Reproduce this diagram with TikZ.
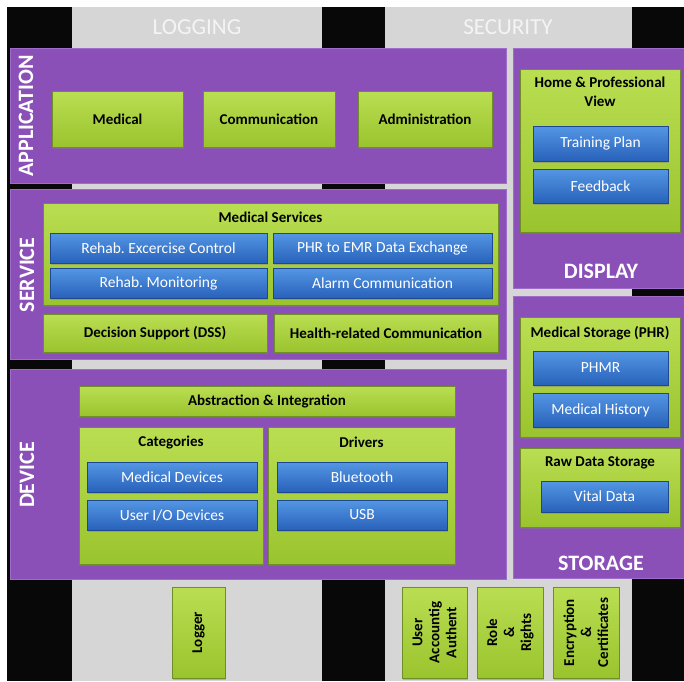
\documentclass[tikz,border=0pt]{standalone}
\usepackage{fontspec}
\setmainfont{Carlito}
\frenchspacing
\usetikzlibrary{shadows}
\definecolor{pur}{RGB}{138,80,184}
\definecolor{purT}{RGB}{160,108,204}
\definecolor{grnT}{RGB}{186,222,82}
\definecolor{grnB}{RGB}{154,196,46}
\definecolor{grnD}{RGB}{112,142,40}
\definecolor{bluT}{RGB}{84,150,228}
\definecolor{bluB}{RGB}{40,98,186}
\definecolor{bluD}{RGB}{30,72,145}
\definecolor{gry}{RGB}{214,214,214}
\definecolor{blk}{RGB}{8,8,8}
\definecolor{lbl}{RGB}{244,244,244}
\newcommand\bx[7]{\pgfmathsetmacro\bw{#5-#3}\pgfmathsetmacro\bh{#6-#4}%
  \node[#2,minimum width=\bw pt,minimum height=\bh pt,inner sep=0pt] (#1) at ({(#3+#5)/2},{(#4+#6)/2}) {#7};}
\tikzset{
  colblack/.style={fill=blk,draw=none},
  colgray/.style={fill=gry,draw=none},
  panel/.style={fill=pur,draw=purT,line width=0.6pt},
  gbox/.style={top color=grnT,bottom color=grnB,draw=grnD,line width=0.7pt,
    drop shadow={shadow xshift=1pt,shadow yshift=-1.5pt,opacity=.45},
    font=\fontsize{15}{17}\selectfont\bfseries,text=black,align=center},
  bbox/.style={top color=bluT,bottom color=bluB,draw=bluD,line width=0.7pt,
    drop shadow={shadow xshift=1pt,shadow yshift=-1.5pt,opacity=.45},
    font=\fontsize{15.5}{18}\selectfont,text=white},
  ptitle/.style={font=\fontsize{22}{26}\selectfont\bfseries,text=white,inner sep=0pt},
  gtitle/.style={font=\fontsize{15}{19}\selectfont\bfseries,text=black,inner sep=0pt,align=center},
  toplbl/.style={font=\fontsize{23}{26}\selectfont,text=lbl,inner sep=0pt},
  vtxt/.style={font=\fontsize{15}{17}\selectfont\bfseries,text=black,align=center,rotate=90}
}
\begin{document}
\begin{tikzpicture}[x=1pt,y=-1pt]
\useasboundingbox (0,0) rectangle (684,681);
\fill[white] (0,0) rectangle (684,681);
% background columns
\bx{c1}{colblack}{7}{7}{72}{681}{}
\bx{c2}{colgray}{72}{7}{322}{681}{}
\bx{c3}{colblack}{322}{7}{385}{681}{}
\bx{c4}{colgray}{385}{7}{632}{681}{}
\bx{c5}{colblack}{632}{7}{684}{681}{}
\node[toplbl] (logT) at (197,27) {LOGGING};
\node[toplbl] (secT) at (508,27) {SECURITY};
% purple panels
\bx{app}{panel}{10}{48}{506}{183}{}
\bx{srv}{panel}{10}{189}{506}{359}{}
\bx{dev}{panel}{10}{369}{506}{579}{}
\bx{dsp}{panel}{513}{48}{684}{288}{}
\bx{sto}{panel}{513}{296}{684}{578}{}
\node[ptitle,rotate=90] (appT) at (26,116) {APPLICATION};
\node[ptitle,rotate=90] (srvT) at (27,275) {SERVICE};
\node[ptitle,rotate=90] (devT) at (27,475) {DEVICE};
\node[ptitle] (dspT) at (601,271) {DISPLAY};
\node[ptitle] (stoT) at (601,563) {STORAGE};
% application
\bx{med}{gbox}{52}{91}{183}{147}{Medical}
\bx{com}{gbox}{203}{91}{335}{147}{Communication}
\bx{adm}{gbox}{358}{91}{492}{147}{Administration}
% service
\bx{ms}{gbox}{43}{203}{498}{305}{}
\node[gtitle] (msT) at (270.5,217) {Medical Services};
\bx{rec}{bbox}{50}{233}{267}{263}{Rehab. Excercise Control}
\bx{phr}{bbox}{273}{233}{492}{263}{PHR to EMR Data Exchange}
\bx{rmo}{bbox}{50}{268}{267}{298}{Rehab. Monitoring}
\bx{alc}{bbox}{273}{268}{492}{298}{Alarm Communication}
\bx{dss}{gbox}{43}{314}{267}{352}{Decision Support (DSS)}
\bx{hrc}{gbox}{274}{314}{498}{352}{Health-related Communication}
% device
\bx{abs}{gbox}{79}{386}{455}{416}{Abstraction \& Integration}
\bx{cat}{gbox}{79}{427}{263}{564}{}
\node[gtitle] (catT) at (171,442) {Categories};
\bx{drv}{gbox}{268}{427}{455}{564}{}
\node[gtitle] (drvT) at (361.5,442) {Drivers};
\bx{mdv}{bbox}{87}{462}{257}{492}{Medical Devices}
\bx{uio}{bbox}{87}{500}{257}{530}{User I/O Devices}
\bx{blt}{bbox}{277}{462}{447}{492}{Bluetooth}
\bx{usb}{bbox}{277}{500}{447}{530}{USB}
% display
\bx{hpv}{gbox}{520}{69}{680}{232}{}
\node[gtitle] (hpvT) at (600,92) {Home \& Professional\\View};
\bx{trp}{bbox}{533}{126}{668}{161}{Training Plan}
\bx{fdb}{bbox}{533}{169}{668}{203}{Feedback}
% storage
\bx{mst}{gbox}{520}{317}{680}{437}{}
\node[gtitle] (mstT) at (600,333) {Medical Storage (PHR)};
\bx{phm}{bbox}{533}{351}{668}{385}{PHMR}
\bx{mhi}{bbox}{533}{393}{668}{427}{Medical History}
\bx{raw}{gbox}{520}{448}{680}{527}{}
\node[gtitle] (rawT) at (600,463) {Raw Data Storage};
\bx{vit}{bbox}{541}{481}{668}{512}{Vital Data}
% bottom
\bx{lgr}{gbox}{172}{587}{225}{678}{}
\node[vtxt] (lgrT) at (lgr) {Logger};
\bx{usr}{gbox}{402}{587}{467}{678}{}
\node[vtxt] (usrT) at (usr) {User\\Accountig\\Authent};
\bx{rol}{gbox}{477}{587}{543}{678}{}
\node[vtxt] (rolT) at (rol) {Role\\\&\\Rights};
\bx{enc}{gbox}{553}{587}{619}{678}{}
\node[vtxt] (encT) at (enc) {Encryption\\\&\\Certificates};
\end{tikzpicture}
\end{document}
